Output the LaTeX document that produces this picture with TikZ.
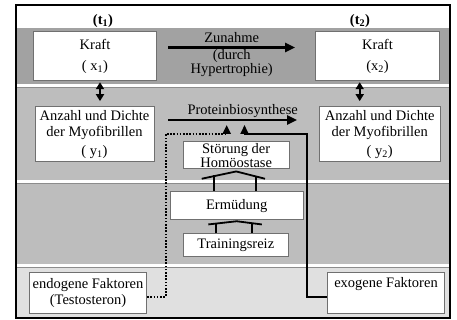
\documentclass[tikz,border=0pt]{standalone}
\usepackage{fontspec}
\setmainfont{Liberation Serif}
\usetikzlibrary{arrows.meta}
\definecolor{banddark}{HTML}{A2A2A2}
\definecolor{bandmid}{HTML}{BDBDBD}
\definecolor{bandlight}{HTML}{E0E0E0}
\definecolor{boxline}{HTML}{707070}
\definecolor{sepline}{HTML}{8C8C8C}
\begin{document}
\begin{tikzpicture}[x=1pt,y=-1pt,
  box/.style={draw=boxline, line width=1pt, fill=white, inner sep=0pt, align=center,
    font=\fontsize{14.5}{17}\selectfont},
  lbl/.style={inner sep=0pt, align=center, font=\fontsize{14.5}{11}\selectfont},
  bigarrow/.style={line width=2.4pt, -{Triangle[length=10pt,width=9pt]}},
  dblarrow/.style={line width=2pt, {Triangle[length=7pt,width=8pt]}-{Triangle[length=7pt,width=8pt]}},
  roof/.style={line width=1.8pt, line join=miter},
  feedarrow/.style={line width=2pt, -{Triangle[length=9pt,width=8pt]}},
  ]
\useasboundingbox (0,0) rectangle (457,320);
% bands
\fill[white] (17,6) rectangle (449,28);
\fill[banddark] (17,28) rectangle (449,84);
\fill[bandmid] (17,87) rectangle (449,180);
\fill[bandmid] (17,183) rectangle (449,264);
\fill[bandlight] (17,267) rectangle (449,317);
\fill[white] (17,84) rectangle (449,86.5);
\fill[white] (17,180) rectangle (449,182.5);
\fill[white] (17,264) rectangle (449,266.5);
\draw[sepline, line width=0.8pt] (17,87) -- (449,87);
\draw[sepline, line width=0.8pt] (17,183) -- (449,183);
\draw[sepline, line width=0.8pt] (17,267) -- (449,267);
% frame
\draw[black, line width=2pt] (16,5) rectangle (450,318);

% time labels
\node[lbl, font=\bfseries\fontsize{14.5}{11}\selectfont] (t1) at (103,21) {(t\textsubscript{1})};
\node[lbl, font=\bfseries\fontsize{14.5}{11}\selectfont] (t2) at (360,21) {(t\textsubscript{2})};

% boxes
\node[box, minimum width=123.4pt, minimum height=49pt] (k1) at (95,56.2) {Kraft\\[4pt]( x\textsubscript{1})};
\node[box, minimum width=124.4pt, minimum height=49pt] (k2) at (377.5,56.2) {Kraft\\[4pt](x\textsubscript{2})};
\node[box, minimum width=119pt, minimum height=55.3pt, font=\fontsize{14.5}{16}\selectfont] (a1) at (94.5,134.3)
  {Anzahl und Dichte\\der Myofibrillen\\[3pt]( y\textsubscript{1})};
\node[box, minimum width=121.3pt, minimum height=55.3pt, font=\fontsize{14.5}{16}\selectfont] (a2) at (379.7,134.3)
  {Anzahl und Dichte\\der Myofibrillen\\[3pt]( y\textsubscript{2})};
\node[box, minimum width=105.7pt, minimum height=27.3pt, font=\fontsize{14.5}{11}\selectfont] (st) at (236.2,155.3)
  {Störung der\\Homöostase};
\node[box, minimum width=133.3pt, minimum height=28.3pt] (er) at (236.7,205.8) {Ermüdung};
\node[box, minimum width=105pt, minimum height=22.7pt] (tr) at (235.8,245.3) {Trainingsreiz};
\node[box, minimum width=117.4pt, minimum height=41.3pt, font=\fontsize{14.5}{16.3}\selectfont] (en) at (88,293.3)
  {endogene Faktoren\\(Testosteron)};
\node[box, minimum width=117.4pt, minimum height=41.3pt, font=\fontsize{14.5}{16.3}\selectfont] (ex) at (386,293.3)
  {exogene Faktoren\\\strut};

% labels
\node[lbl] (zu) at (231.7,38) {Zunahme};
\node[lbl, font=\fontsize{14.5}{10}\selectfont] (du) at (231.7,63) {(durch\\Hypertrophie)};
\node[lbl] (pb) at (242.7,111.5) {Proteinbiosynthese};

% main arrows
\coordinate (za) at (168,47.5);
\coordinate (zb) at (295,47.5);
\draw[bigarrow] (za) -- (zb);
\coordinate (pa) at (168,120);
\coordinate (pbe) at (297,120);
\draw[bigarrow] (pa) -- (pbe);

% double arrows
\draw[dblarrow] ([xshift=5pt,yshift=-1pt]k1.south) -- ([xshift=5.5pt,yshift=5pt]a1.north);
\draw[dblarrow] ([xshift=-17.8pt,yshift=-1pt]k2.south) -- ([xshift=-20pt,yshift=5pt]a2.north);

% roof connectors Ermuedung -> Stoerung
\draw[roof] ([xshift=-35pt,yshift=12.4pt]er.north) -- ([yshift=-2pt]st.south) -- ([xshift=28.3pt,yshift=12.4pt]er.north);
\draw[roof] ([xshift=-22.7pt]er.north) -- ++(0,-15.8);
\draw[roof] ([xshift=19pt]er.north) -- ++(0,-15.2);
% roof connectors Trainingsreiz -> Ermuedung
\draw[roof] ([xshift=-27.5pt,yshift=9pt]tr.north) -- ([yshift=-0.8pt]er.south) -- ([xshift=26pt,yshift=9pt]tr.north);
\draw[roof] ([xshift=-19.8pt]tr.north) -- ++(0,-10.6);
\draw[roof] ([xshift=15.9pt]tr.north) -- ++(0,-10.6);

% feedback paths
\coordinate (dc) at (165.7,134);
\coordinate (pd) at (226.7,125);
\draw[feedarrow, dash pattern=on 1.6pt off 1.6pt] ([yshift=-3.4pt]en.east) -| (dc) -| (pd);
\coordinate (sc) at (307.3,134);
\coordinate (ps) at (244.5,125);
\draw[feedarrow] ([yshift=-3.4pt]ex.west) -| (sc) -| (ps);
\end{tikzpicture}
\end{document}
